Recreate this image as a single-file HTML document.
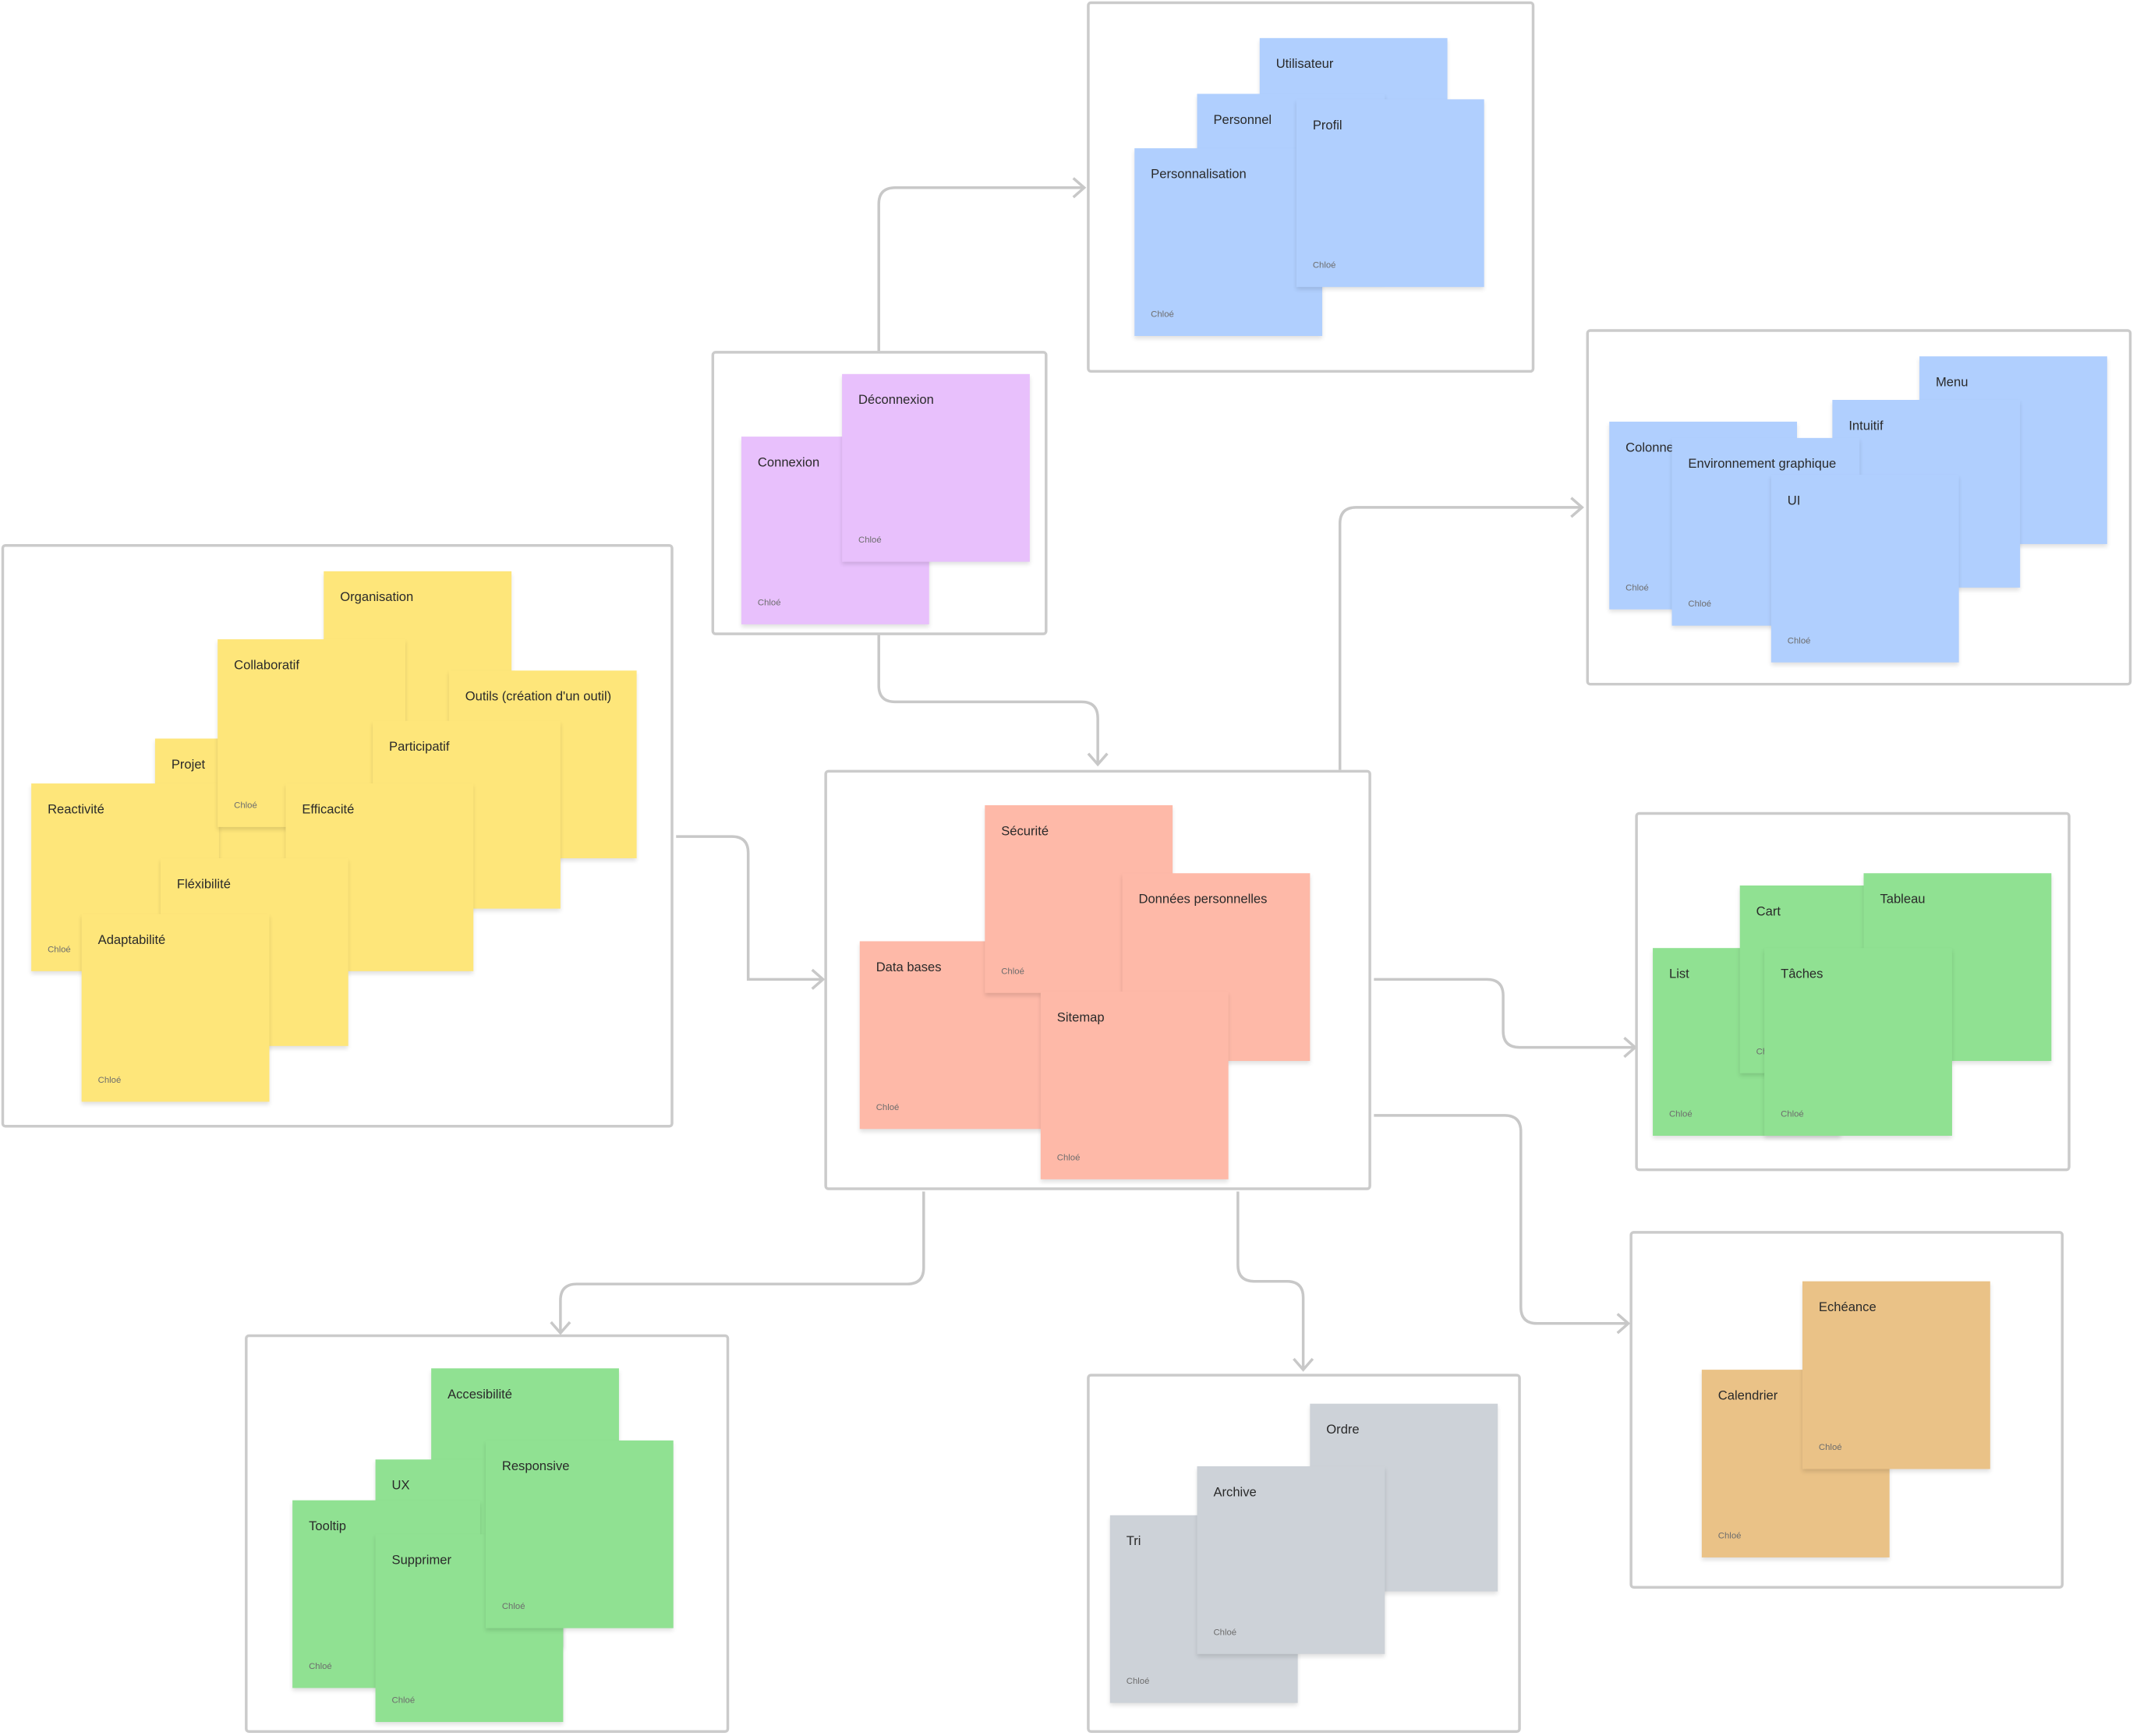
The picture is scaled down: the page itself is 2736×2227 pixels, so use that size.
<!DOCTYPE html>
<html><head><meta charset="utf-8"><style>
html,body{margin:0;padding:0;background:#fff;}
body{width:2736px;height:2226px;overflow:hidden;position:relative;}
#w{position:absolute;left:0;top:0;width:1568px;height:1276px;transform:scale(1.7449);transform-origin:0 0;font-family:"Liberation Sans",sans-serif;}
.f{position:absolute;border:2px solid #cbcbcb;border-radius:3px;box-sizing:border-box;background:#fff;}
.s{position:absolute;width:138px;height:138px;box-shadow:0 2px 3px rgba(0,0,0,0.12);}
.s b{position:absolute;left:12px;top:13.5px;font-weight:normal;font-size:9.5px;color:#2a2a2a;white-space:nowrap;}
.s i{position:absolute;left:12px;bottom:12px;font-style:normal;font-size:6.5px;color:#6d6d6d;}
.y{background:#fee67a}.p{background:#e8c0fc}.b{background:#b0cffe}.r{background:#feb9a8}.g{background:#90e192}.o{background:#eac287}.k{background:#cdd2d8}
svg{position:absolute;left:0;top:0;}
</style></head><body><div id="w">
<svg width="1568" height="1276" fill="none" stroke="#c8c8c8" stroke-width="2">
<path d="M646 258 V150 Q646 138 658 138 H797"/><path d="M789 131 L797 138 L789 145"/>
<path d="M646 466 V504 Q646 516 658 516 H795 Q807 516 807 528 V562"/><path d="M800 554 L807 562 L814 554"/>
<path d="M497 615 H538 Q550 615 550 627 V720 H605"/><path d="M597 713 L605 720 L597 727"/>
<path d="M985 566 V385 Q985 373 997 373 H1163"/><path d="M1155 366 L1163 373 L1155 380"/>
<path d="M1010 720 H1093 Q1105 720 1105 732 V758 Q1105 770 1117 770 H1202"/><path d="M1194 763 L1202 770 L1194 777"/>
<path d="M1010 820 H1106 Q1118 820 1118 832 V961 Q1118 973 1130 973 H1197"/><path d="M1189 966 L1197 973 L1189 980"/>
<path d="M910 876 V930 Q910 942 922 942 H946 Q958 942 958 954 V1007"/><path d="M951 999 L958 1007 L965 999"/>
<path d="M679 876 V932 Q679 944 667 944 H424 Q412 944 412 956 V980"/><path d="M405 972 L412 980 L419 972"/>
</svg>
<div class="f" style="left:1px;top:400px;width:494px;height:429px"></div>
<div class="f" style="left:523px;top:258px;width:247px;height:209px"></div>
<div class="f" style="left:799px;top:1px;width:329px;height:273px"></div>
<div class="f" style="left:1166px;top:242px;width:401px;height:262px"></div>
<div class="f" style="left:606px;top:566px;width:402px;height:309px"></div>
<div class="f" style="left:1202px;top:597px;width:320px;height:264px"></div>
<div class="f" style="left:1198px;top:905px;width:319px;height:263px"></div>
<div class="f" style="left:180px;top:981px;width:356px;height:293px"></div>
<div class="f" style="left:799px;top:1010px;width:319px;height:264px"></div>

<div class="s y" style="left:238px;top:420px"><b>Organisation</b><i>Chloé</i></div>
<div class="s y" style="left:330px;top:493px"><b>Outils (création d'un outil)</b><i>Chloé</i></div>
<div class="s y" style="left:114px;top:543px"><b>Projet</b><i>Chloé</i></div>
<div class="s y" style="left:23px;top:576px"><b>Reactivité</b><i>Chloé</i></div>
<div class="s y" style="left:160px;top:470px"><b>Collaboratif</b><i>Chloé</i></div>
<div class="s y" style="left:274px;top:530px"><b>Participatif</b><i>Chloé</i></div>
<div class="s y" style="left:210px;top:576px"><b>Efficacité</b><i>Chloé</i></div>
<div class="s y" style="left:118px;top:631px"><b>Fléxibilité</b><i>Chloé</i></div>
<div class="s y" style="left:60px;top:672px"><b>Adaptabilité</b><i>Chloé</i></div>

<div class="s p" style="left:545px;top:321px"><b>Connexion</b><i>Chloé</i></div>
<div class="s p" style="left:619px;top:275px"><b>Déconnexion</b><i>Chloé</i></div>

<div class="s b" style="left:926px;top:28px"><b>Utilisateur</b><i>Chloé</i></div>
<div class="s b" style="left:880px;top:69px"><b>Personnel</b><i>Chloé</i></div>
<div class="s b" style="left:834px;top:109px"><b>Personnalisation</b><i>Chloé</i></div>
<div class="s b" style="left:953px;top:73px"><b>Profil</b><i>Chloé</i></div>

<div class="s b" style="left:1411px;top:262px"><b>Menu</b><i>Chloé</i></div>
<div class="s b" style="left:1347px;top:294px"><b>Intuitif</b><i>Chloé</i></div>
<div class="s b" style="left:1183px;top:310px"><b>Colonne</b><i>Chloé</i></div>
<div class="s b" style="left:1229px;top:322px"><b>Environnement graphique</b><i>Chloé</i></div>
<div class="s b" style="left:1302px;top:349px"><b>UI</b><i>Chloé</i></div>

<div class="s r" style="left:632px;top:692px"><b>Data bases</b><i>Chloé</i></div>
<div class="s r" style="left:724px;top:592px"><b>Sécurité</b><i>Chloé</i></div>
<div class="s r" style="left:825px;top:642px"><b>Données personnelles</b><i>Chloé</i></div>
<div class="s r" style="left:765px;top:729px"><b>Sitemap</b><i>Chloé</i></div>

<div class="s g" style="left:1215px;top:697px"><b>List</b><i>Chloé</i></div>
<div class="s g" style="left:1279px;top:651px"><b>Cart</b><i>Chloé</i></div>
<div class="s g" style="left:1370px;top:642px"><b>Tableau</b><i>Chloé</i></div>
<div class="s g" style="left:1297px;top:697px"><b>Tâches</b><i>Chloé</i></div>

<div class="s o" style="left:1251px;top:1007px"><b>Calendrier</b><i>Chloé</i></div>
<div class="s o" style="left:1325px;top:942px"><b>Echéance</b><i>Chloé</i></div>

<div class="s g" style="left:317px;top:1006px"><b>Accesibilité</b><i>Chloé</i></div>
<div class="s g" style="left:276px;top:1073px"><b>UX</b><i>Chloé</i></div>
<div class="s g" style="left:215px;top:1103px"><b>Tooltip</b><i>Chloé</i></div>
<div class="s g" style="left:276px;top:1128px"><b>Supprimer</b><i>Chloé</i></div>
<div class="s g" style="left:357px;top:1059px"><b>Responsive</b><i>Chloé</i></div>

<div class="s k" style="left:963px;top:1032px"><b>Ordre</b><i>Chloé</i></div>
<div class="s k" style="left:816px;top:1114px"><b>Tri</b><i>Chloé</i></div>
<div class="s k" style="left:880px;top:1078px"><b>Archive</b><i>Chloé</i></div>
</div></body></html>
